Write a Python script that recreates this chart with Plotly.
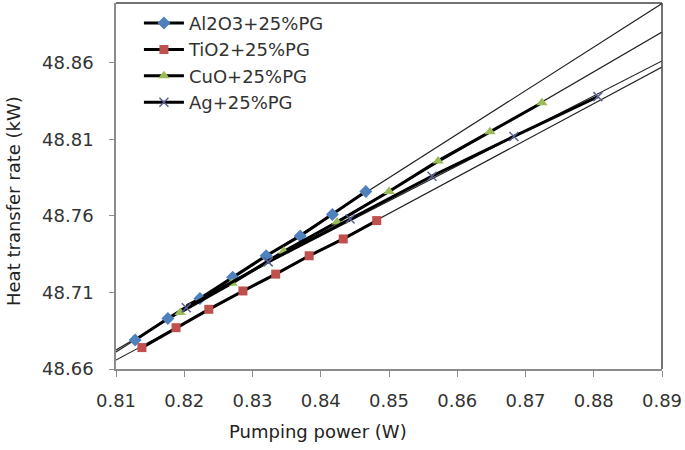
import numpy as np
import plotly.graph_objects as go

# ---- data ----
al_x = [0.8128, 0.8176, 0.8223, 0.8271, 0.8320, 0.8370, 0.8417, 0.8466]
al_y = [48.679, 48.693, 48.706, 48.720, 48.734, 48.747, 48.761, 48.776]

ti_x = [0.8138, 0.8188, 0.8236, 0.8286, 0.8334, 0.8383, 0.8433, 0.8482]
ti_y = [48.674, 48.687, 48.699, 48.711, 48.722, 48.734, 48.745, 48.757]

cu_x = [0.8194, 0.8270, 0.8346, 0.8424, 0.8500, 0.8572, 0.8648, 0.8724]
cu_y = [48.697, 48.716, 48.737, 48.756, 48.776, 48.796, 48.815, 48.834]

ag_x = [0.8203, 0.8323, 0.8443, 0.8563, 0.8683, 0.8806]
ag_y = [48.700, 48.730, 48.758, 48.786, 48.812, 48.838]

names = ["Al2O3+25%PG", "TiO2+25%PG", "CuO+25%PG", "Ag+25%PG"]
x_ticks = [0.81, 0.82, 0.83, 0.84, 0.85, 0.86, 0.87, 0.88, 0.89]
y_ticks = [48.66, 48.71, 48.76, 48.81, 48.86]

series = [(al_x, al_y), (ti_x, ti_y), (cu_x, cu_y), (ag_x, ag_y)]
# trendline start: backward forecast to the axis start, except Ag (from its first point)
trend_start = [x_ticks[0], x_ticks[0], x_ticks[0], ag_x[0]]

marker_styles = [
    dict(symbol="diamond", size=10, color="#4F81BD"),
    dict(symbol="square", size=9, color="#C0504D"),
    dict(symbol="triangle-up", size=10, color="#9BBB59"),
    dict(symbol="x-thin", size=9, color="#5B6294", line=dict(width=1.5, color="#5B6294")),
]

FONT = "DejaVu Sans"
fig = go.Figure()

x_lo, x_hi = x_ticks[0], x_ticks[-1]
for (xs, ys), xs0 in zip(series, trend_start):
    k, b = np.polyfit(xs, ys, 1)
    tx = np.array([xs0, x_hi])
    fig.add_trace(go.Scatter(x=tx, y=k * tx + b, mode="lines",
                             line=dict(color="#222222", width=1.2),
                             showlegend=False, hoverinfo="skip"))

for (xs, ys), nm, mk in zip(series, names, marker_styles):
    fig.add_trace(go.Scatter(x=xs, y=ys, mode="lines+markers", name=nm,
                             line=dict(color="black", width=3),
                             marker=mk))

fig.update_layout(
    width=685, height=450,
    margin=dict(l=116, r=23, t=3, b=81),
    paper_bgcolor="white", plot_bgcolor="white",
    font=dict(family=FONT, size=18, color="#333333"),
    showlegend=True,
    legend=dict(x=0.042, y=0.995, xanchor="left", yanchor="top",
                bgcolor="rgba(255,255,255,0)", borderwidth=0,
                font=dict(family=FONT, size=18, color="#333333"),
                tracegroupgap=0, itemwidth=40),
)
fig.update_xaxes(range=[x_lo, x_hi], tickvals=x_ticks,
                 ticktext=[f"{v:.2f}" for v in x_ticks],
                 showgrid=False, zeroline=False,
                 showline=True, linecolor="#8a8a8a", linewidth=1.5,
                 ticks="outside", ticklen=6, tickcolor="#8a8a8a",
                 ticklabelstandoff=9,
                 tickfont=dict(family=FONT, size=18, color="#333333"))
fig.update_yaxes(range=[y_ticks[0], 48.8992], tickvals=y_ticks,
                 ticktext=[f"{v:.2f}" for v in y_ticks],
                 showgrid=False, zeroline=False,
                 showline=True, linecolor="#8a8a8a", linewidth=1.5,
                 ticks="outside", ticklen=5, tickcolor="#8a8a8a",
                 ticklabelstandoff=12,
                 tickfont=dict(family=FONT, size=18, color="#333333"))

# dark frame on top and right of the plot area
fig.add_shape(type="line", xref="paper", yref="paper", x0=0, x1=1, y0=1, y1=1,
              line=dict(color="#444444", width=1.5))
fig.add_shape(type="line", xref="paper", yref="paper", x0=1, x1=1, y0=0, y1=1,
              line=dict(color="#444444", width=1.5))

fig.add_annotation(text="Pumping power (W)", xref="paper", yref="paper",
                   x=(318 - 116) / 546, y=-0.17, xanchor="center", yanchor="middle",
                   showarrow=False, font=dict(family=FONT, size=18, color="#222222"))
fig.add_annotation(text="Heat transfer rate (kW)", xref="paper", yref="paper",
                   x=(14 - 116) / 546, y=(369 - 201) / 366, xanchor="center", yanchor="middle",
                   textangle=-90, showarrow=False,
                   font=dict(family=FONT, size=18, color="#222222"))

fig.write_html("out.html", config={"displayModeBar": False},
               post_script="document.body.style.margin='0';document.body.style.overflow='hidden';")
